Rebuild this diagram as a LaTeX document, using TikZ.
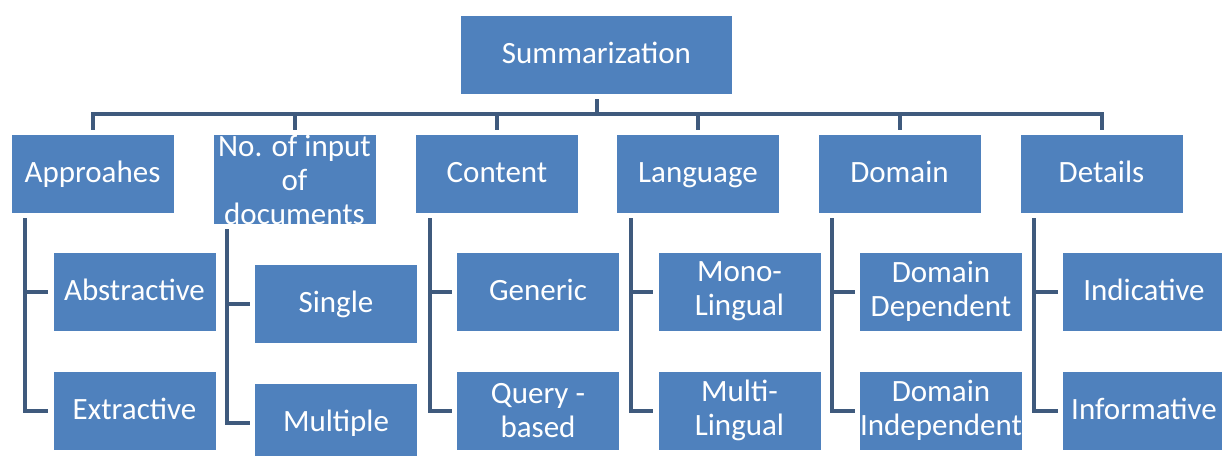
\documentclass[tikz,border=0pt]{standalone}
\usepackage{fontspec}
\setmainfont{Carlito}
\definecolor{boxblue}{HTML}{4F81BD}
\definecolor{linecol}{HTML}{3F5A7D}
\begin{document}
\begin{tikzpicture}[x=1pt,y=-1pt,
  box/.style={fill=boxblue,draw=none,minimum width=162pt,minimum height=78pt,inner sep=0pt,
    text=white,align=center,font=\fontsize{31}{34}\selectfont},
  oneline/.style={text height=21pt,text depth=4pt},
  conn/.style={draw=linecol,line width=4pt,shorten >=5pt,shorten <=5pt}]
\useasboundingbox (0,0) rectangle (1222,455);
\fill[white] (0,0) rectangle (1222,455);
% root
\node[box,oneline,minimum width=271pt] (root) at (596.5,55) {Summarization};
% level 1
\node[box,oneline] (a) at (92.5,174) {Approahes};
\node[box,minimum height=89pt] (b) at (294.5,179.5) {No. of input\\of\\documents};
\node[box,oneline] (c) at (497,174) {Content};
\node[box,oneline] (d) at (698,174) {Language};
\node[box,oneline] (e) at (899.5,174) {Domain};
\node[box,oneline] (f) at (1101.5,174) {Details};
% level 2
\node[box,oneline] (a1) at (134.5,291.5) {Abstractive};
\node[box,oneline] (a2) at (134.5,410.5) {Extractive};
\node[box,oneline] (b1) at (336,304) {Single};
\node[box,oneline] (b2) at (336,423) {Multiple};
\node[box,oneline] (c1) at (538,291.5) {Generic};
\node[box] (c2) at (538,410.5) {Query -\\based};
\node[box] (d1) at (739.5,291.5) {Mono-\\Lingual};
\node[box] (d2) at (739.5,410.5) {Multi-\\Lingual};
\node[box] (e1) at (941,291.5) {Domain\\Dependent};
\node[box] (e2) at (941,410.5) {Domain\\Independent};
\node[box,oneline] (f1) at (1144,291.5) {Indicative};
\node[box,oneline] (f2) at (1144,410.5) {Informative};
% bus
\coordinate (bus) at (596.5,114);
\foreach \n in {a,b,c,d,e,f}{
  \draw[conn] (root.south) |- (bus) -| (\n.north);
}
% spines
\foreach \p in {a,b,c,d,e,f}{
  \draw[conn] ([xshift=14pt]\p.south west) |- (\p1.west);
  \draw[conn] ([xshift=14pt]\p.south west) |- (\p2.west);
}
\end{tikzpicture}
\end{document}
